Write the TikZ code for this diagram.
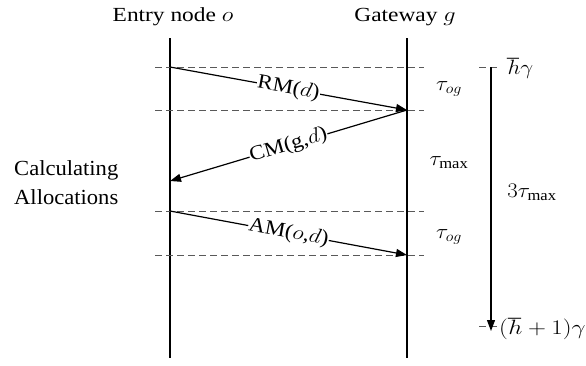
\documentclass[tikz,border=0pt]{standalone}
\usepackage{fontspec}
\setmainfont{Liberation Serif}
\usetikzlibrary{arrows.meta}
\newcommand{\stretchtxt}[2][1.2]{\scalebox{#1}[1]{#2}}
\begin{document}
\begin{tikzpicture}[x=1pt,y=-1pt,
  lifeline/.style={line width=1.6pt},
  guide/.style={draw=black!65,line width=0.9pt,dash pattern=on 7pt off 4pt},
  msg/.style={line width=1.2pt,-{Triangle[length=11pt,width=8pt]}},
  msglabel/.style={fill=white,inner sep=0.5pt,sloped,font=\fontsize{20.5}{24}\selectfont},
  txt/.style={font=\fontsize{20}{24}\selectfont,inner sep=0pt},
  calctxt/.style={font=\fontsize{21.5}{28}\selectfont,inner sep=0pt},
  mathtxt/.style={font=\fontsize{21.5}{24}\selectfont,inner sep=0pt}]
\useasboundingbox (0,0) rectangle (586,365);
% titles
\node[txt] (entry) at (173,17) {\stretchtxt[1.17]{Entry node $o$}};
\node[txt] (gate) at (405,17) {\stretchtxt[1.17]{Gateway $g$}};
% lifelines
\coordinate (o1) at (170,38); \coordinate (o2) at (170,358);
\coordinate (g1) at (407,38); \coordinate (g2) at (407,358);
\draw[lifeline] (o1) -- (o2);
\draw[lifeline] (g1) -- (g2);
% guides
\coordinate (d1l) at (155,67);  \coordinate (d1r) at (424,67);
\coordinate (d2l) at (155,110); \coordinate (d2r) at (424,110);
\coordinate (d3l) at (155,211); \coordinate (d3r) at (424,211);
\coordinate (d4l) at (155,255); \coordinate (d4r) at (424,255);
\draw[guide] (d1l) -- (d1r);
\draw[guide] (d2l) -- (d2r);
\draw[guide] (d3l) -- (d3r);
\draw[guide] (d4l) -- (d4r);
% messages
\coordinate (m1s) at (170,67);  \coordinate (m1e) at (407,110);
\coordinate (m2e) at (170,181);
\coordinate (m3s) at (170,211); \coordinate (m3e) at (407,255);
\draw[msg] (m1s) -- node[msglabel] (rm) {\stretchtxt[1.12]{RM($d$)}} (m1e);
\draw[msg] (m1e) -- node[msglabel] (cm) {\stretchtxt[1.12]{CM(g,$d$)}} (m2e);
\draw[msg] (m3s) -- node[msglabel] (am) {\stretchtxt[1.12]{AM($o$,$d$)}} (m3e);
% left text
\node[calctxt,anchor=north west] (calc1) at (14,160) {\stretchtxt[1.05]{Calculating}};
\node[calctxt,anchor=north west] (calc2) at (14,189) {\stretchtxt[1.05]{Allocations}};
% interval labels
\node[mathtxt] (t1) at (449,89) {\stretchtxt[1.1]{$\tau_{og}$}};
\node[mathtxt] (t2) at (449,163) {\stretchtxt[1.1]{$\tau_{\max}$}};
\node[mathtxt] (t3) at (449,237) {\stretchtxt[1.1]{$\tau_{og}$}};
% total span
\coordinate (h1l) at (479,67); \coordinate (h1r) at (500,67);
\coordinate (h2l) at (479,326); \coordinate (h2r) at (500,326);
\draw[guide] (h1l) -- (h1r);
\draw[guide] (h2l) -- (h2r);
\coordinate (a1) at (491,67); \coordinate (a2) at (491,331);
\draw[line width=1.2pt,-{Triangle[length=11pt,width=8pt]}] (a1) -- (a2);
\node[mathtxt,anchor=west] (hg) at (507,68) {\stretchtxt[1.1]{$\hbar\gamma$}};
\node[mathtxt,anchor=west] (h1g) at (499,329) {\stretchtxt[1.2]{$(\hbar+1)\gamma$}};
\node[mathtxt] (t4) at (532,192) {\stretchtxt[1.1]{$3\tau_{\max}$}};
\end{tikzpicture}
\end{document}
